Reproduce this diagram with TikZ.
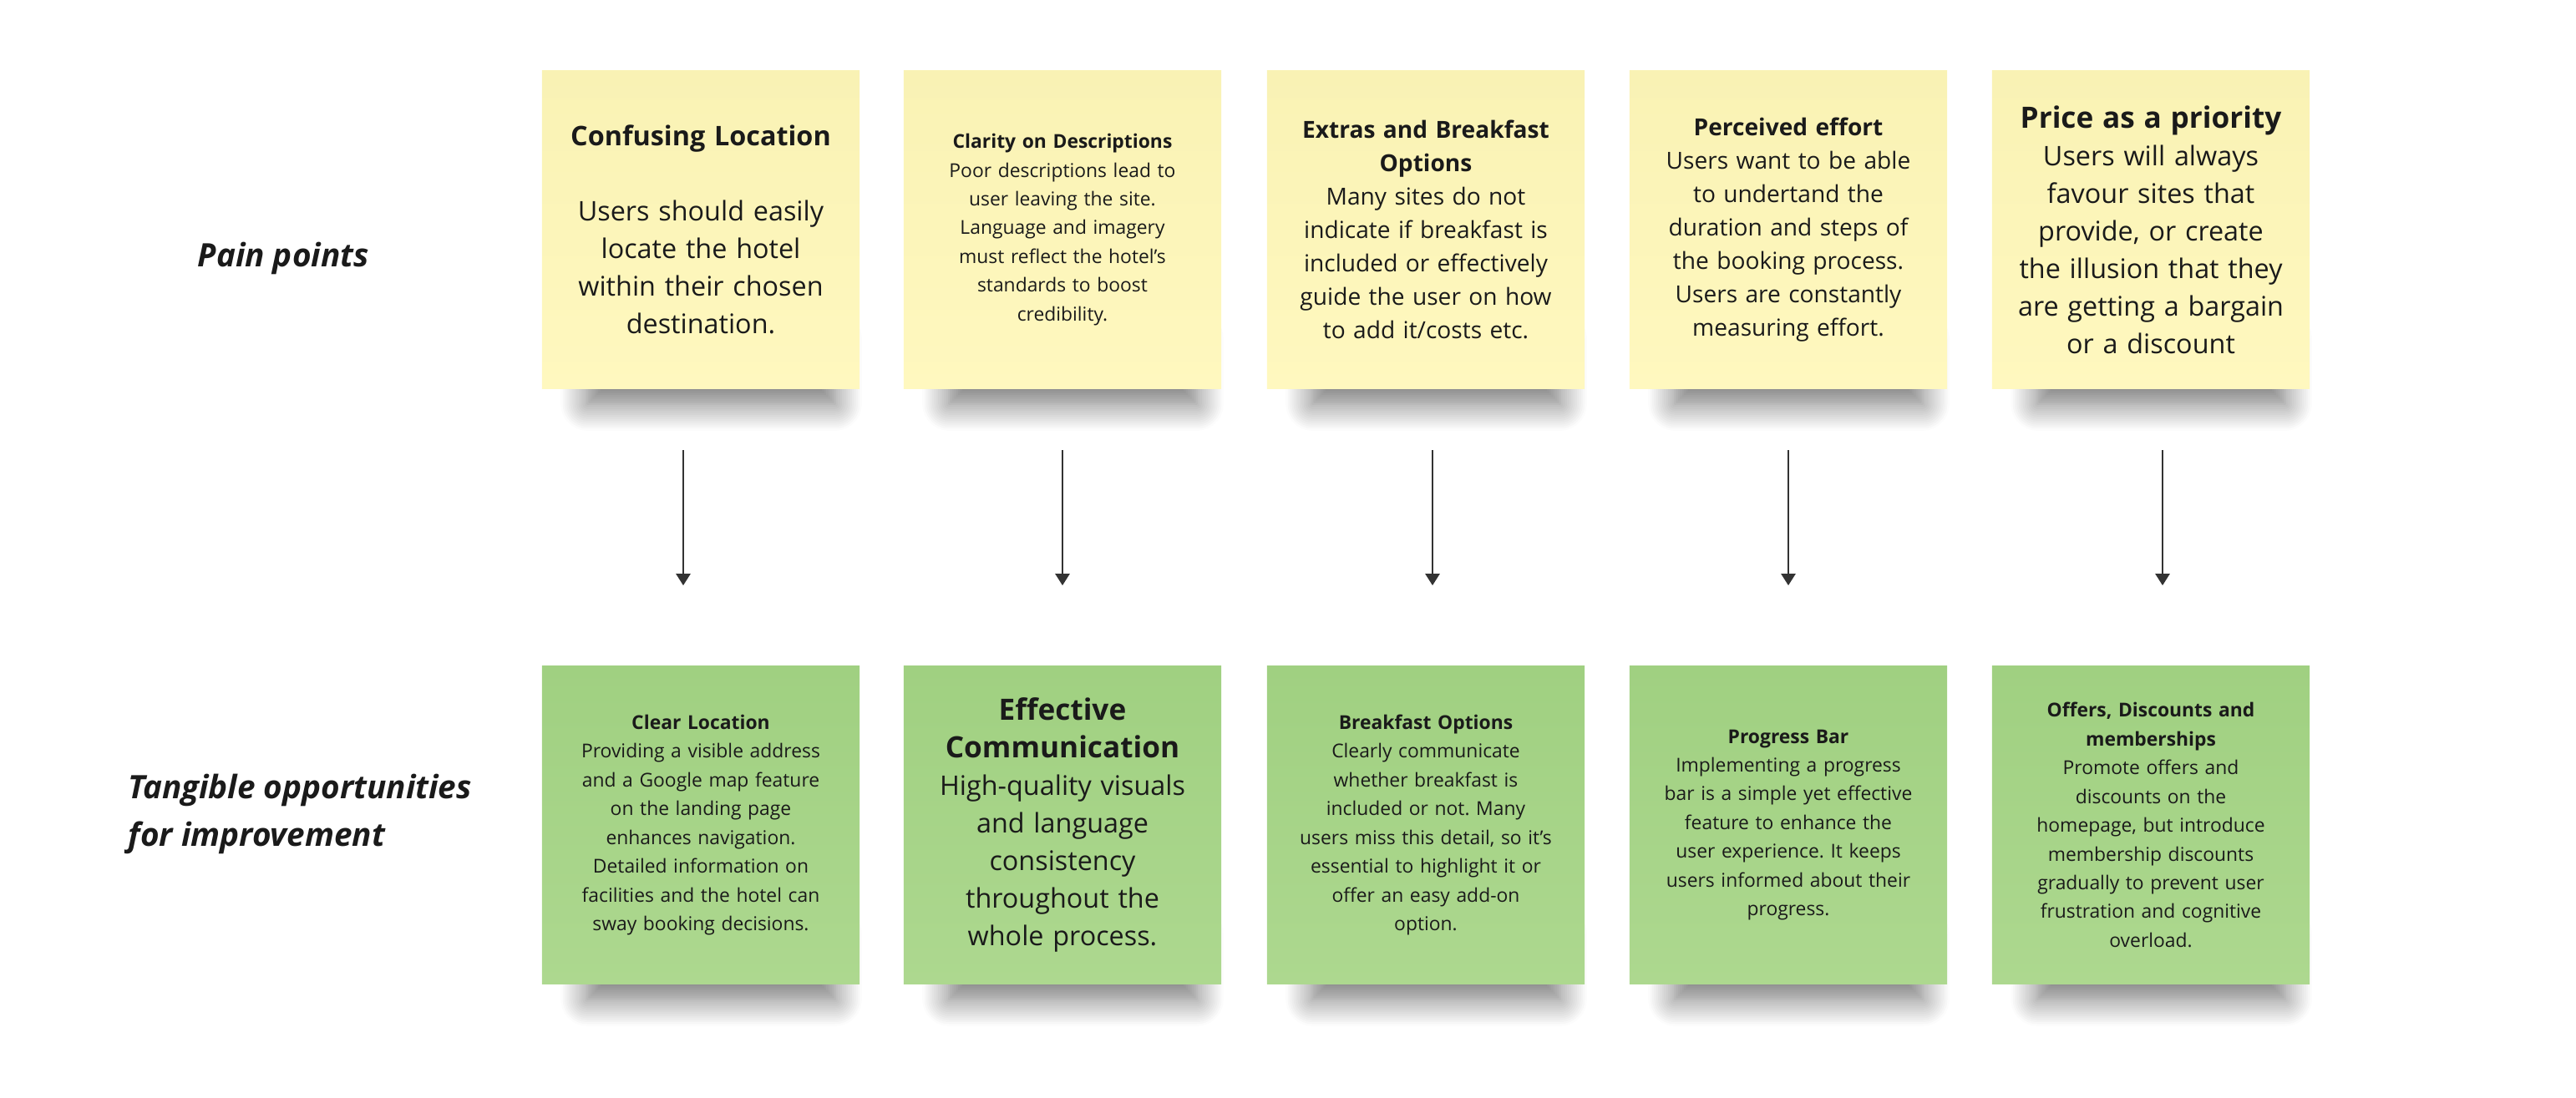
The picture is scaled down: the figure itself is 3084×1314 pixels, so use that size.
\documentclass[tikz,border=0pt]{standalone}
\usepackage{fontspec}
\setmainfont{Open Sans}
\frenchspacing
\usetikzlibrary{arrows.meta, positioning, calc, backgrounds, shadows.blur}
\definecolor{yellowtop}{RGB}{249,242,180}
\definecolor{yellowbot}{RGB}{255,248,191}
\definecolor{greentop}{RGB}{160,208,129}
\definecolor{greenbot}{RGB}{173,216,143}
\definecolor{inkgray}{RGB}{26,26,26}
\definecolor{arrowgray}{RGB}{51,51,51}

\begin{document}
\begin{tikzpicture}[x=0.01cm, y=-0.01cm,
    note/.style={rectangle, minimum width=3.8cm, minimum height=3.8cm,
                 text width=3.6cm, align=center, text=inkgray, inner sep=0pt},
    pain/.style={note, top color=yellowtop, bottom color=yellowbot},
    idea/.style={note, top color=greentop, bottom color=greenbot},
    txts/.style={font=\fontsize{6.5}{9.8}\selectfont},
    txtm/.style={font=\fontsize{8}{11.4}\selectfont},
    txtl/.style={font=\fontsize{9.2}{12.8}\selectfont},
    rowlbl/.style={font=\fontsize{11}{16.2}\selectfont\bfseries\itshape,
                   anchor=west, align=left, inner sep=0pt, text=inkgray},
    fl/.style={-{Triangle[width=0.17cm,length=0.14cm]}, line width=0.025cm, arrowgray,
               shorten <=0.73cm, shorten >=0.96cm},
    sh/.style={blur shadow={shadow xshift=0pt, shadow yshift=0pt,
               shadow blur radius=0.32cm, shadow blur steps=14, shadow opacity=55}}
]
\useasboundingbox (0,0) rectangle (3084,1314);

% Row labels
\node[rowlbl] (lblpain) at (236,309) {Pain points};
\node[rowlbl] (lblopp)  at (153,975) {Tangible opportunities\\for improvement};

% Pain points
\node[pain,txtl] (p1) at (839,275) {\textbf{Confusing Location}\\[12.7pt]Users should easily\\locate the hotel\\within their chosen\\destination.};
\node[pain,txts] (p2) at (1272,275) {\textbf{Clarity on Descriptions}\\Poor descriptions lead to\\user leaving the site.\\Language and imagery\\must reflect the hotel's\\standards to boost\\credibility.};
\node[pain,txtm] (p3) at (1707,275) {\textbf{Extras and Breakfast}\\\textbf{Options}\\Many sites do not\\indicate if breakfast is\\included or effectively\\guide the user on how\\to add it/costs etc.};
\node[pain,txtm] (p4) at (2141,275) {\textbf{Perceived effort}\\Users want to be able\\to undertand the\\duration and steps of\\the booking process.\\Users are constantly\\measuring effort.};
\node[pain,txtl] (p5) at (2575,275) {{\fontsize{10}{12.8}\selectfont\bfseries Price as a priority}\\Users will always\\favour sites that\\provide, or create\\the illusion that they\\are getting a bargain\\or a discount};

% Opportunities
\node[idea,txts] (o1) at (839,988) {\textbf{Clear Location}\\Providing a visible address\\and a Google map feature\\on the landing page\\enhances navigation.\\Detailed information on\\facilities and the hotel can\\sway booking decisions.};
\node[idea,txtl] (o2) at (1272,988) {{\fontsize{10}{14.5}\selectfont\bfseries Effective\\Communication}\\High-quality visuals\\and language\\consistency\\throughout the\\whole process.};
\node[idea,txts] (o3) at (1707,988) {\textbf{Breakfast Options}\\Clearly communicate\\whether breakfast is\\included or not. Many\\users miss this detail, so it's\\essential to highlight it or\\offer an easy add-on\\option.};
\node[idea,txts] (o4) at (2141,988) {\textbf{Progress Bar}\\Implementing a progress\\bar is a simple yet effective\\feature to enhance the\\user experience. It keeps\\users informed about their\\progress.};
\node[idea,txts] (o5) at (2575,988) {\textbf{Offers, Discounts and}\\\textbf{memberships}\\Promote offers and\\discounts on the\\homepage, but introduce\\membership discounts\\gradually to prevent user\\frustration and cognitive\\overload.};

% Shadows under the notes
\begin{scope}[on background layer]
\foreach \n in {p1,p2,p3,p4,p5,o1,o2,o3,o4,o5}
  \path[sh] ($(\n.south west)+(55,-60)$) rectangle ($(\n.south east)+(-30,18)$);
\end{scope}

% Arrows
\draw[fl] ([xshift=-0.21cm]p1.south) -- ([xshift=-0.21cm]o1.north);
\draw[fl] (p2.south) -- (o2.north);
\draw[fl] ([xshift=0.08cm]p3.south) -- ([xshift=0.08cm]o3.north);
\draw[fl] (p4.south) -- (o4.north);
\draw[fl] ([xshift=0.14cm]p5.south) -- ([xshift=0.14cm]o5.north);

\end{tikzpicture}
\end{document}
